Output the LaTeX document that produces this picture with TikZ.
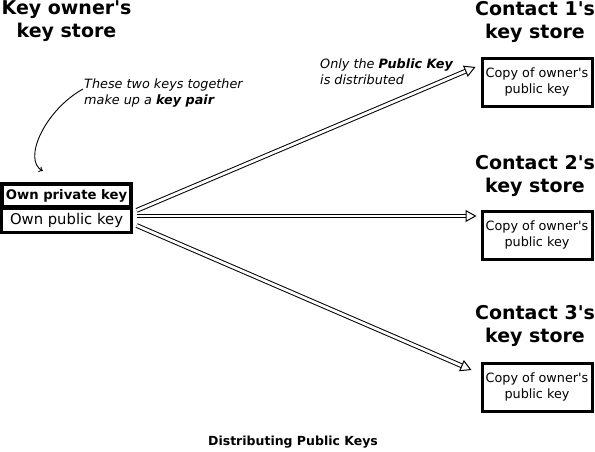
\documentclass[tikz,border=0pt]{standalone}
\usepackage{fontspec}
\setmainfont{DejaVu Sans}
\usetikzlibrary{arrows.meta,calc}
\newcommand{\apos}{\textquotesingle}
\begin{document}
\begin{tikzpicture}[x=1pt,y=-1pt,
  title/.style={font=\fontsize{19}{23}\selectfont\bfseries, align=center, inner sep=0pt, anchor=north},
  note/.style={font=\fontsize{12.8}{16}\selectfont\itshape, align=left, inner sep=0pt, anchor=north west},
  copybox/.style={draw, line width=3pt, minimum width=110pt, minimum height=48pt, align=center,
     font=\fontsize{12.8}{15.5}\selectfont, inner sep=0pt},
  dbl/.style={draw=black, line width=1pt, double=white, double distance=2.8pt,
     -{Triangle[open, length=11pt, width=12pt, line width=1pt]}},
]
\useasboundingbox (0,0) rectangle (595,451);
% left store
\node[title] (ownertitle) at (66.5,0) {Key owner\apos s\\key store};
\node[draw, line width=3.2pt, minimum width=129pt, minimum height=23pt, inner sep=0pt,
  font=\fontsize{13.2}{15}\selectfont\bfseries] (ownpriv) at (66.5,195.5) {Own private key};
\node[draw, line width=2.2pt, minimum width=130pt, minimum height=24pt, inner sep=0pt,
  font=\fontsize{14.8}{17}\selectfont] (ownpub) at (66.5,220.5) {Own public key};
% notes
\node[note] (pairnote) at (84,79) {These two keys together\\make up a \textbf{key pair}};
\node[note] (distnote) at (320,59) {Only the \textbf{Public Key}\\is distributed};
\draw[line width=0.9pt, -{To[length=4pt,width=6pt]}] ($(pairnote.north west)+(-1,10)$)
   .. controls (45,110) and (22,160) .. (43,171);
% contact stores
\node[title] (c1title) at (535,1) {Contact 1\apos s\\key store};
\node[copybox] (copy1) at (537,82) {Copy of owner\apos s\\public key};
\node[title] (c2title) at (535,155) {Contact 2\apos s\\key store};
\node[copybox] (copy2) at (537,235) {Copy of owner\apos s\\public key};
\node[title] (c3title) at (535,305) {Contact 3\apos s\\key store};
\node[copybox] (copy3) at (537,387) {Copy of owner\apos s\\public key};
% arrows
\draw[dbl] ($(ownpub.north east)+(4,3)$) -- ($(copy1.west)+(-5,-15)$);
\draw[dbl] ($(ownpub.east)+(4,-4.5)$) -- ($(copy2.west)+(-4,-19)$);
\draw[dbl] ($(ownpub.east)+(4,5)$) -- ($(copy3.west)+(-9,-17)$);
% caption
\node[font=\fontsize{12.5}{15}\selectfont\bfseries, inner sep=0pt] (caption) at (293,442) {Distributing Public Keys};
\end{tikzpicture}
\end{document}
